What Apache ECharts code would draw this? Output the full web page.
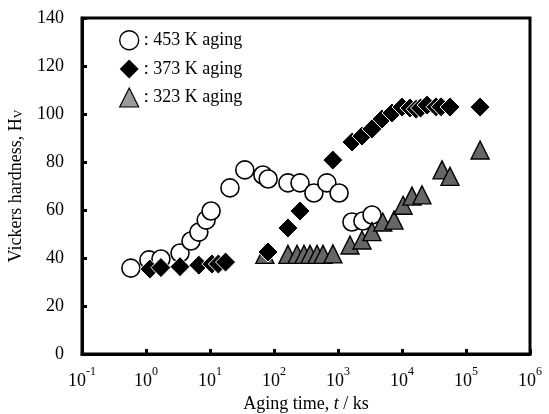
<!DOCTYPE html>
<html><head><meta charset="utf-8">
<script src="https://cdn.jsdelivr.net/npm/echarts@6/dist/echarts.min.js"></script>
<style>html,body{margin:0;padding:0;background:#fff}#c{width:549px;height:414px}</style>
</head><body><div id="c"></div>
<script>
const seriesNames = ['453 K aging', '373 K aging', '323 K aging'];
const xTickExponents = [-1, 0, 1, 2, 3, 4, 5, 6];
const yTicks = [0, 20, 40, 60, 80, 100, 120, 140];

const t453 = [0.58, 1.11, 1.71, 3.4, 5.05, 6.7, 8.7, 10.4, 20.5, 35, 67, 81, 165, 255, 420, 670, 1040, 1650, 2450, 3400];
const hv453 = [35.8, 39.2, 39.6, 42.1, 47.1, 50.8, 55.8, 59.6, 69.2, 76.7, 74.6, 72.9, 71.3, 71.3, 67.1, 71.3, 67.1, 55.0, 55.4, 57.9];

const t373 = [1.15, 1.71, 3.4, 6.7, 10.7, 13.5, 17.5, 80.6, 165, 255, 830, 1660, 2370, 3390, 4870, 6980, 10000, 13300, 16600, 19500, 24600, 34000, 40800, 56200, 166000];
const hv373 = [35.4, 36.0, 36.4, 37.0, 37.5, 37.5, 38.3, 42.5, 52.5, 59.6, 80.8, 88.3, 90.8, 93.8, 97.9, 100.4, 102.9, 102.5, 102.0, 102.5, 103.7, 103.0, 103.0, 102.9, 102.9];

const t323 = [72, 165, 229, 294, 365, 470, 583, 832, 1540, 2370, 3390, 5000, 7500, 10400, 14300, 20500, 42200, 56200, 166000];
const hv323 = [41.5, 41.5, 41.5, 41.5, 41.5, 41.5, 41.5, 41.7, 45.4, 47.5, 51.0, 55.0, 55.8, 62.0, 65.8, 66.3, 76.7, 74.0, 85.0];

const zip = (xs, ys) => xs.map((x, i) => [x, ys[i]]);
const FONT = "'Liberation Serif','Times New Roman',serif";

const chart = echarts.init(document.getElementById('c'), null, {renderer: 'canvas'});
chart.setOption({
  animation: false,
  backgroundColor: '#fff',
  textStyle: {fontFamily: FONT, color: '#000'},
  grid: {left: 82, right: 19, top: 18, bottom: 60, show: true, borderColor: '#000', borderWidth: 3, containLabel: false, outerBoundsMode: 'none'},
  legend: {
    orient: 'vertical', left: 114, top: 25, itemWidth: 19, itemHeight: 19, itemGap: 9,
    data: [
      {name: seriesNames[0], itemStyle: {borderWidth: 1.4}},
      {name: seriesNames[1], itemStyle: {borderWidth: 0}},
      {name: seriesNames[2], itemStyle: {color: '#9a9a9a', borderWidth: 1.2}}
    ],
    formatter: n => ': ' + n,
    textStyle: {fontFamily: FONT, fontSize: 18, color: '#000'}
  },
  xAxis: {
    type: 'log', logBase: 10, min: 0.1, max: 1e6, interval: 1,
    axisLine: {lineStyle: {color: '#000', width: 3}},
    axisTick: {inside: true, length: 5, lineStyle: {color: '#000', width: 3}},
    splitLine: {show: false},
    minorTick: {show: false},
    axisLabel: {
      margin: 12, color: '#000', fontFamily: FONT,
      formatter: v => '{b|10}{s|' + Math.round(Math.log10(v)) + '}',
      rich: {
        b: {fontSize: 18, lineHeight: 24, fontFamily: FONT, color: '#000', verticalAlign: 'bottom'},
        s: {fontSize: 12, lineHeight: 12, fontFamily: FONT, color: '#000', verticalAlign: 'top'}
      }
    },
    name: '{n|Aging time, }{i|t}{n| / ks}',
    nameLocation: 'middle', nameGap: 41,
    nameTextStyle: {
      rich: {
        n: {fontSize: 18, fontFamily: FONT, color: '#000'},
        i: {fontSize: 18, fontFamily: FONT, fontStyle: 'italic', color: '#000'}
      }
    }
  },
  yAxis: {
    type: 'value', min: 0, max: 140, interval: 20,
    axisLine: {show: true, lineStyle: {color: '#000', width: 3}},
    axisTick: {show: true, inside: true, length: 5, lineStyle: {color: '#000', width: 3}},
    splitLine: {show: false},
    axisLabel: {margin: 18, fontSize: 18, color: '#000', fontFamily: FONT},
    name: '{n|Vickers hardness, H}{v|V}',
    nameLocation: 'middle', nameGap: 57, nameRotate: 90,
    nameTextStyle: {
      rich: {
        n: {fontSize: 18, lineHeight: 22, fontFamily: FONT, color: '#000', verticalAlign: 'bottom'},
        v: {fontSize: 12, lineHeight: 12, fontFamily: FONT, color: '#000', verticalAlign: 'bottom'}
      }
    }
  },
  series: [
    {
      name: seriesNames[0], type: 'scatter', symbol: 'circle', symbolSize: 18,
      itemStyle: {color: '#fff', borderColor: '#000', borderWidth: 1.6, opacity: 1},
      data: zip(t453, hv453)
    },
    {
      name: seriesNames[2], type: 'scatter', symbol: 'triangle', symbolSize: 18,
      itemStyle: {color: '#666', borderColor: '#000', borderWidth: 1.4, opacity: 1},
      data: zip(t323, hv323)
    },
    {
      name: seriesNames[1], type: 'scatter', symbol: 'diamond', symbolSize: 20,
      itemStyle: {color: '#000', borderColor: '#fff', borderWidth: 1, opacity: 1},
      data: zip(t373, hv373)
    }
  ]
});
</script>
</body></html>
